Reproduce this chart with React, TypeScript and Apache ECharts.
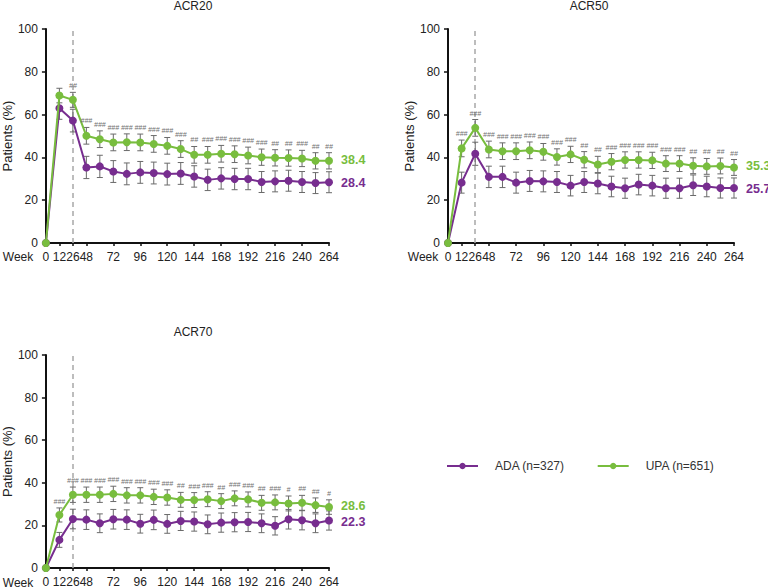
import React, { useEffect, useRef } from "react";
import * as echarts from "echarts";

const weeks = ["0", "12", "26", "48", "60", "72", "84", "96", "108", "120", "132", "144", "156", "168", "180", "192", "204", "216", "228", "240", "252", "264"];

const acr20Upa = [0, 68.9, 66.9, 50.1, 48.5, 47.0, 47.1, 47.0, 46.3, 45.4, 43.9, 41.2, 41.2, 41.7, 41.5, 40.9, 40.1, 39.8, 39.7, 39.5, 38.4, 38.4];
const acr20Ada = [0, 63.0, 57.2, 35.3, 35.8, 33.4, 32.3, 33.0, 32.7, 32.2, 32.5, 31.1, 29.5, 30.2, 29.9, 29.9, 28.5, 28.8, 29.1, 28.5, 28.0, 28.4];
const acr20UpaErr = [0, 3.4, 3.5, 3.9, 3.9, 3.9, 3.9, 3.9, 3.9, 3.9, 3.9, 3.9, 3.9, 3.9, 3.9, 3.9, 3.8, 3.8, 3.8, 3.8, 3.8, 3.8];
const acr20AdaErr = [0, 5.2, 5.3, 5.2, 5.2, 5.1, 5.1, 5.1, 5.1, 5.1, 5.1, 5.0, 5.0, 5.0, 5.0, 5.0, 4.9, 4.9, 4.9, 4.9, 4.9, 4.9];
const acr20Marks = ["", "", "##", "###", "###", "###", "###", "###", "###", "###", "###", "##", "###", "###", "###", "###", "###", "##", "##", "###", "##", "##"];

const acr50Upa = [0, 44.2, 53.8, 43.7, 42.9, 42.9, 43.3, 42.6, 40.2, 41.4, 38.9, 36.7, 38.0, 38.8, 38.8, 38.6, 37.1, 37.1, 36.1, 35.8, 36.0, 35.3];
const acr50Ada = [0, 28.2, 41.7, 30.9, 30.9, 28.2, 29.0, 28.8, 28.5, 26.8, 28.5, 27.8, 26.4, 25.6, 27.3, 26.8, 25.6, 25.6, 27.0, 26.4, 25.7, 25.7];
const acr50UpaErr = [0, 3.9, 3.9, 3.9, 3.9, 3.9, 3.9, 3.9, 3.8, 3.8, 3.8, 3.8, 3.8, 3.8, 3.8, 3.8, 3.7, 3.7, 3.7, 3.7, 3.7, 3.7];
const acr50AdaErr = [0, 4.9, 5.4, 5.0, 5.0, 4.9, 4.9, 4.9, 4.9, 4.8, 4.9, 4.8, 4.8, 4.7, 4.8, 4.8, 4.7, 4.7, 4.8, 4.8, 4.7, 4.7];
const acr50Marks = ["", "###", "###", "###", "###", "###", "###", "###", "###", "###", "##", "##", "###", "###", "###", "###", "###", "###", "##", "##", "##", "##"];

const acr70Upa = [0, 24.9, 34.4, 34.4, 34.4, 34.8, 34.1, 34.1, 33.4, 33.1, 32.0, 31.9, 32.3, 31.4, 32.7, 32.2, 30.6, 30.8, 30.3, 30.6, 29.5, 28.6];
const acr70Ada = [0, 13.2, 23.0, 22.7, 21.0, 22.9, 22.7, 20.8, 22.6, 20.7, 22.1, 21.8, 20.5, 21.3, 21.5, 21.6, 21.0, 19.8, 22.9, 22.4, 21.0, 22.3];
const acr70UpaErr = [0, 3.3, 3.6, 3.6, 3.6, 3.6, 3.6, 3.6, 3.6, 3.6, 3.5, 3.5, 3.5, 3.5, 3.5, 3.5, 3.5, 3.5, 3.5, 3.5, 3.4, 3.4];
const acr70AdaErr = [0, 3.5, 4.6, 4.6, 4.4, 4.6, 4.6, 4.4, 4.6, 4.4, 4.5, 4.5, 4.4, 4.5, 4.5, 4.5, 4.4, 4.3, 4.6, 4.5, 4.4, 4.5];
const acr70Marks = ["", "###", "###", "###", "###", "###", "###", "###", "###", "###", "##", "###", "###", "##", "###", "###", "##", "###", "#", "##", "##", "#"];

const titles = ["ACR20", "ACR50", "ACR70"];
const upaName = "UPA (n=651)";
const adaName = "ADA (n=327)";

const GREEN = "#78bd3e";
const PURPLE = "#772d8f";
const FONT = "Arial, 'Liberation Sans', sans-serif";

const panels = [
  { title: titles[0], upa: acr20Upa, ada: acr20Ada, upaErr: acr20UpaErr, adaErr: acr20AdaErr, marks: acr20Marks },
  { title: titles[1], upa: acr50Upa, ada: acr50Ada, upaErr: acr50UpaErr, adaErr: acr50AdaErr, marks: acr50Marks },
  { title: titles[2], upa: acr70Upa, ada: acr70Ada, upaErr: acr70UpaErr, adaErr: acr70AdaErr, marks: acr70Marks },
];

const grids = [
  { left: 43, top: 29, width: 286, height: 214 },
  { left: 448, top: 29, width: 286, height: 214 },
  { left: 43, top: 355, width: 286, height: 214 },
];
const titlePos = [
  [193, 6],
  [589, 6],
  [193, 332],
];

function lineSeries(name: string, vals: number[], color: string, idx: number, z: number, withMark: boolean, dy: number) {
  const last = vals.length - 1;
  const s: any = {
    type: "line",
    name,
    xAxisIndex: idx,
    yAxisIndex: idx,
    symbol: "circle",
    symbolSize: 8,
    z,
    color,
    itemStyle: { color },
    lineStyle: { color, width: 2 },
    data: vals.map((v, i) =>
      i === last
        ? {
            value: v,
            label: {
              show: true,
              position: "right",
              distance: 8,
              offset: [0, dy],
              formatter: v.toFixed(1),
              color,
              fontWeight: "bold",
              fontSize: 12.5,
              lineHeight: 11,
              fontFamily: FONT,
            },
          }
        : v
    ),
  };
  if (withMark) {
    s.markLine = {
      silent: true,
      symbol: "none",
      label: { show: false },
      lineStyle: { color: "#a8a8a8", type: [5, 4], width: 1.5 },
      data: [{ xAxis: "26" }],
      z: 1,
    };
  }
  return s;
}

function errSeries(vals: number[], errs: number[], idx: number) {
  const data = vals.map((v, i) => [i, v - errs[i], v + errs[i]]).filter((d, i) => i > 0);
  return {
    type: "custom",
    xAxisIndex: idx,
    yAxisIndex: idx,
    z: 2,
    silent: true,
    encode: { x: 0, y: [1, 2] },
    data,
    renderItem: (params: any, api: any) => {
      const i = api.value(0);
      const top = api.coord([i, api.value(2)]);
      const bot = api.coord([i, api.value(1)]);
      const w = 3;
      const st = { stroke: "#6a6a6a", lineWidth: 1 };
      return {
        type: "group",
        children: [
          { type: "line", shape: { x1: top[0], y1: top[1], x2: bot[0], y2: bot[1] }, style: st },
          { type: "line", shape: { x1: top[0] - w, y1: top[1], x2: top[0] + w, y2: top[1] }, style: st },
          { type: "line", shape: { x1: bot[0] - w, y1: bot[1], x2: bot[0] + w, y2: bot[1] }, style: st },
        ],
      };
    },
  };
}

function markSeries(vals: number[], errs: number[], marks: string[], idx: number) {
  const items = marks
    .map((m, i) => ({ m, i, y: vals[i] + errs[i] }))
    .filter((d) => d.m !== "");
  return {
    type: "custom",
    xAxisIndex: idx,
    yAxisIndex: idx,
    z: 4,
    silent: true,
    encode: { x: 0, y: 1 },
    data: items.map((d) => [d.i, d.y]),
    renderItem: (params: any, api: any) => {
      const p = api.coord([api.value(0), api.value(1)]);
      return {
        type: "text",
        x: p[0],
        y: p[1] - 3,
        style: {
          text: items[params.dataIndex].m,
          fill: "#707070",
          fontSize: 7,
          fontStyle: "italic",
          fontFamily: FONT,
          align: "center",
          verticalAlign: "bottom",
        },
      };
    },
  };
}

export default function App() {
  const ref = useRef<HTMLDivElement>(null);
  useEffect(() => {
    document.body.style.margin = "0";
    if (!ref.current) return;
    const chart = echarts.init(ref.current, null, { renderer: "svg" });

    const xAxis = grids.map((g, i) => ({
      type: "category",
      gridIndex: i,
      data: weeks,
      boundaryGap: false,
      axisLine: { lineStyle: { color: "#111", width: 2 } },
      axisTick: { show: true, length: 3, lineStyle: { color: "#111", width: 1.5 } },
      axisLabel: {
        interval: (index: number) => index <= 3 || (index - 3) % 2 === 0,
        color: "#222",
        fontSize: 12,
        fontFamily: FONT,
        margin: 8,
      },
    }));

    const yAxis = grids.map((g, i) => ({
      type: "value",
      gridIndex: i,
      min: 0,
      max: 100,
      interval: 20,
      name: "Patients (%)",
      nameLocation: "middle",
      nameGap: 31,
      nameTextStyle: { fontSize: 13, color: "#222", fontFamily: FONT },
      axisLine: { show: true, lineStyle: { color: "#111", width: 2 } },
      axisTick: { show: true, length: 4, lineStyle: { color: "#111", width: 1.5 } },
      axisLabel: { color: "#222", fontSize: 12, fontFamily: FONT, margin: 8 },
      splitLine: { show: false },
    }));

    const series: any[] = [];
    panels.forEach((p, i) => {
      series.push(errSeries(p.ada, p.adaErr, i));
      series.push(errSeries(p.upa, p.upaErr, i));
      series.push(lineSeries(adaName, p.ada, PURPLE, i, 3, true, 1));
      series.push(lineSeries(upaName, p.upa, GREEN, i, 3.5, false, -1));
      series.push(markSeries(p.upa, p.upaErr, p.marks, i));
    });

    const graphic: any[] = [];
    panels.forEach((p, i) => {
      const g = grids[i];
      graphic.push({
        type: "text",
        x: titlePos[i][0],
        y: titlePos[i][1],
        style: { text: p.title, fontSize: 12, fill: "#222", fontFamily: FONT, align: "center", verticalAlign: "middle" },
      });
      graphic.push({
        type: "text",
        x: g.left - 25,
        y: g.top + g.height + 14,
        style: { text: "Week", fontSize: 12, fill: "#222", fontFamily: FONT, align: "center", verticalAlign: "middle" },
      });
    });

    chart.setOption({
      animation: false,
      backgroundColor: "#ffffff",
      grid: grids.map((g) => ({ ...g, containLabel: false })),
      xAxis,
      yAxis,
      series,
      graphic,
      legend: {
        left: 441,
        top: 455,
        itemWidth: 31,
        itemHeight: 8,
        itemGap: 32,
        data: [adaName, upaName],
        textStyle: { fontSize: 12, color: "#333", fontFamily: FONT, padding: [0, 0, 0, 12] },
      },
    });
    return () => chart.dispose();
  }, []);
  return <div ref={ref} style={{ width: 768, height: 588 }} />;
}
